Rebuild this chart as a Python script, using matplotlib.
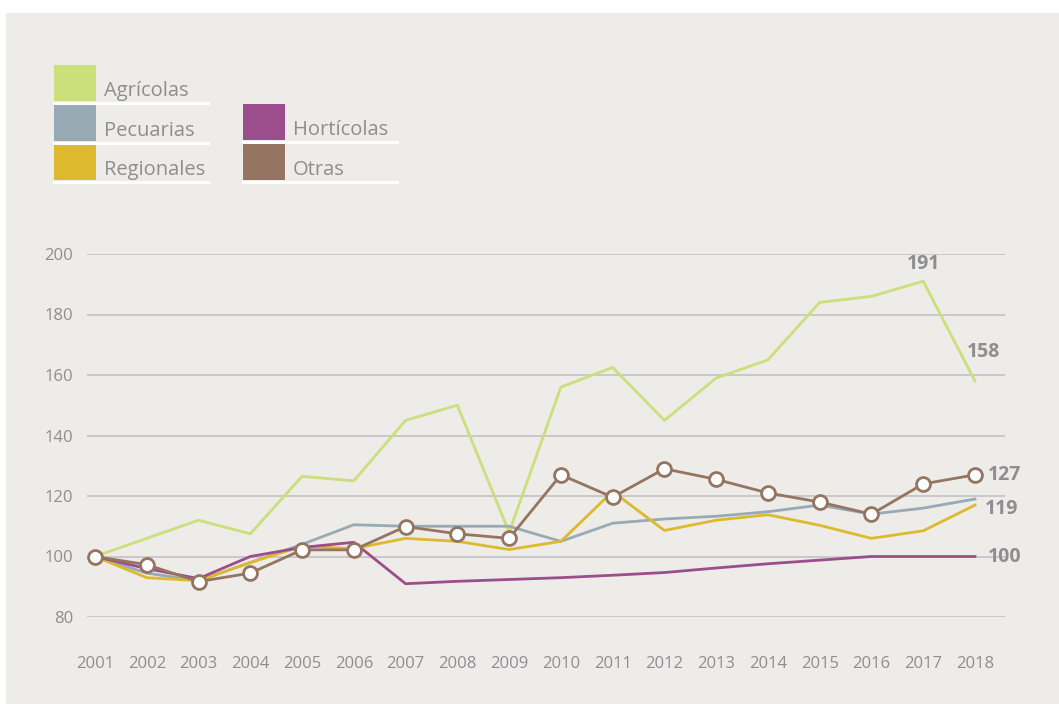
import matplotlib.pyplot as plt
from matplotlib.patches import Rectangle
from matplotlib.lines import Line2D

years = list(range(2001, 2019))

agricolas = [100, 106, 112, 107.5, 126.5, 125, 145, 150, 108, 156, 162.5, 145, 159, 165, 184, 186, 191, 158]
pecuarias = [100, 94.5, 92, 98, 104, 110.5, 110, 110, 110, 105, 111, 112.4, 113.3, 114.8, 117, 114, 116, 119]
regionales = [100, 93, 92, 98, 103.4, 102.6, 106, 105, 102.3, 105, 121.5, 108.6, 112, 113.8, 110.3, 106, 108.5, 117]
horticolas = [100, 96, 92.7, 100, 103, 104.7, 91, 91.8, 92.4, 93, 93.8, 94.7, 96.2, 97.6, 98.8, 100, 100, 100]
otras = [100, 97.3, 91.7, 94.5, 102.2, 102.2, 109.9, 107.5, 106, 127, 119.6, 129, 125.5, 121, 118, 114, 124, 127]

series_names = ['Agrícolas', 'Pecuarias', 'Regionales', 'Hortícolas', 'Otras']
colors = {'Agrícolas': '#cbdf7a', 'Pecuarias': '#98aab3', 'Regionales': '#ddb92d',
          'Hortícolas': '#9c4d8b', 'Otras': '#957561'}

end_labels = [(2017, 191, '191'), (2018, 158, '158'), (2018, 127, '127'), (2018, 119, '119'), (2018, 100, '100')]

plt.rcParams['font.family'] = ['Open Sans', 'DejaVu Sans']
text_gray = '#8e8e92'
bg = '#edece8'

fig = plt.figure(figsize=(10.59, 7.04), dpi=100)
fig.patch.set_facecolor('white')
fig.patches.append(Rectangle((6 / 1059, 0), 1 - 6 / 1059, 1 - 13 / 704, transform=fig.transFigure,
                             facecolor=bg, edgecolor='none', zorder=-10))

ax = fig.add_axes([87 / 1059, (704 - 617) / 704, 918 / 1059, 363 / 704])
ax.set_facecolor('none')
ax.set_xlim(2001 - 8 / 51.76, 2018 + 30 / 51.76)
ax.set_ylim(80, 200)
for s in ax.spines.values():
    s.set_visible(False)
ax.set_yticks(range(80, 201, 20))
ax.set_xticks(years)
ax.grid(axis='y', color='#c2c2c6', linewidth=1.2)
ax.set_axisbelow(True)
ax.tick_params(length=0, colors=text_gray, labelsize=12)
ax.tick_params(axis='y', pad=10)
ax.tick_params(axis='x', pad=28)

lw = 2.0
ax.plot(years, agricolas, color=colors['Agrícolas'], lw=lw, clip_on=False)
ax.plot(years, pecuarias, color=colors['Pecuarias'], lw=lw, clip_on=False)
ax.plot(years, regionales, color=colors['Regionales'], lw=lw, clip_on=False)
ax.plot(years, horticolas, color=colors['Hortícolas'], lw=lw, clip_on=False)
ax.plot(years, otras, color=colors['Otras'], lw=lw, marker='o', markersize=10,
        markerfacecolor='white', markeredgecolor=colors['Otras'], markeredgewidth=2, clip_on=False)

for x, y, t in end_labels:
    if x == 2017:
        ax.annotate(t, (x, y), xytext=(0, 5), textcoords='offset points', ha='center', va='bottom',
                    color=text_gray, fontsize=14, fontweight='bold')
    elif t == '158':
        ax.annotate(t, (x, y), xytext=(-6, 14), textcoords='offset points', ha='left', va='bottom',
                    color=text_gray, fontsize=14, fontweight='bold')
    elif t == '119':
        ax.annotate(t, (x, y), xytext=(7, -7), textcoords='offset points', ha='left', va='center',
                    color=text_gray, fontsize=14, fontweight='bold')
    else:
        ax.annotate(t, (x, y), xytext=(9, 0), textcoords='offset points', ha='left', va='center',
                    color=text_gray, fontsize=14, fontweight='bold')

# legend drawn by hand: colored squares with white underline
legend_items = [('Agrícolas', 54, 65), ('Pecuarias', 54, 105), ('Regionales', 54, 144),
                ('Hortícolas', 243, 104), ('Otras', 243, 144)]
W, H = 1059, 704
for name, x0, y0 in legend_items:
    fig.patches.append(Rectangle((x0 / W, 1 - (y0 + 36) / H), 42 / W, 36 / H, transform=fig.transFigure,
                                 facecolor=colors[name], edgecolor='none'))
    fig.lines.append(Line2D([x0 / W, (x0 + 154) / W], [1 - (y0 + 38) / H] * 2, transform=fig.transFigure,
                            color='white', linewidth=2.2))
    fig.text((x0 + 50) / W, 1 - (y0 + 31) / H, name, color=text_gray, fontsize=14.5, va='baseline', ha='left')

fig.savefig('out.png', dpi=100, facecolor=fig.get_facecolor())
